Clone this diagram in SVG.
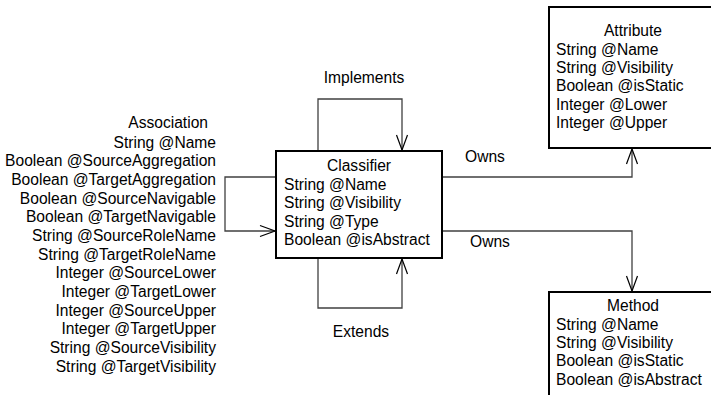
<svg xmlns="http://www.w3.org/2000/svg" width="711" height="395" viewBox="0 0 711 395">
<style>
text{font-family:"Liberation Sans",Arial,sans-serif;font-size:15.6px;fill:#000}
.box{fill:#fff;stroke:#000;stroke-width:2}
.c{fill:none;stroke:#404040;stroke-width:1.3}
.ah{fill:none;stroke:#000;stroke-width:1.2}
.r{text-anchor:end}
.m{text-anchor:middle}
</style>
<rect width="711" height="395" fill="#fff"/>
<g id="connectors">
<polyline class="c" points="318,151 318,99 402,99 402,150"/>
<polyline class="ah" points="396.5,135 402,150 407.5,135"/>
<polyline class="c" points="318,258 318,308 402,308 402,259"/>
<polyline class="ah" points="396.5,274 402,259 407.5,274"/>
<polyline class="c" points="276,177 225,177 225,231 275,231"/>
<polyline class="ah" points="260,225.5 275,231 260,236.5"/>
<polyline class="c" points="443,177 632,177 632,149"/>
<polyline class="ah" points="626.5,164 632,149 637.5,164"/>
<polyline class="c" points="443,231 632,231 632,291"/>
<polyline class="ah" points="626.5,276 632,291 637.5,276"/>
<text x="364" y="83" class="m">Implements</text>
<text x="361" y="337" class="m">Extends</text>
<text x="465" y="162">Owns</text>
<text x="470" y="247">Owns</text>
</g>
<g id="association">
<text x="208" y="128" class="r">Association</text>
<text x="216" y="148" class="r">String @Name</text>
<text x="216" y="166" class="r">Boolean @SourceAggregation</text>
<text x="216" y="185" class="r">Boolean @TargetAggregation</text>
<text x="216" y="204" class="r">Boolean @SourceNavigable</text>
<text x="216" y="222" class="r">Boolean @TargetNavigable</text>
<text x="216" y="241" class="r">String @SourceRoleName</text>
<text x="216" y="260" class="r">String @TargetRoleName</text>
<text x="216" y="278" class="r">Integer @SourceLower</text>
<text x="216" y="297" class="r">Integer @TargetLower</text>
<text x="216" y="316" class="r">Integer @SourceUpper</text>
<text x="216" y="334" class="r">Integer @TargetUpper</text>
<text x="216" y="353" class="r">String @SourceVisibility</text>
<text x="216" y="372" class="r">String @TargetVisibility</text>
</g>
<g id="classifier">
<rect class="box" x="276" y="151" width="166" height="107"/>
<text x="359" y="171" class="m">Classifier</text>
<text x="284" y="190">String @Name</text>
<text x="284" y="208">String @Visibility</text>
<text x="284" y="227">String @Type</text>
<text x="284" y="245">Boolean @isAbstract</text>
</g>
<g id="attribute">
<rect class="box" x="549" y="7" width="170" height="141"/>
<text x="633" y="36" class="m">Attribute</text>
<text x="556" y="55">String @Name</text>
<text x="556" y="73">String @Visibility</text>
<text x="556" y="91">Boolean @isStatic</text>
<text x="556" y="110">Integer @Lower</text>
<text x="556" y="128">Integer @Upper</text>
</g>
<g id="method">
<rect class="box" x="549" y="292" width="170" height="120"/>
<text x="633" y="311" class="m">Method</text>
<text x="556" y="330">String @Name</text>
<text x="556" y="348">String @Visibility</text>
<text x="556" y="366">Boolean @isStatic</text>
<text x="556" y="385">Boolean @isAbstract</text>
</g>
</svg>
